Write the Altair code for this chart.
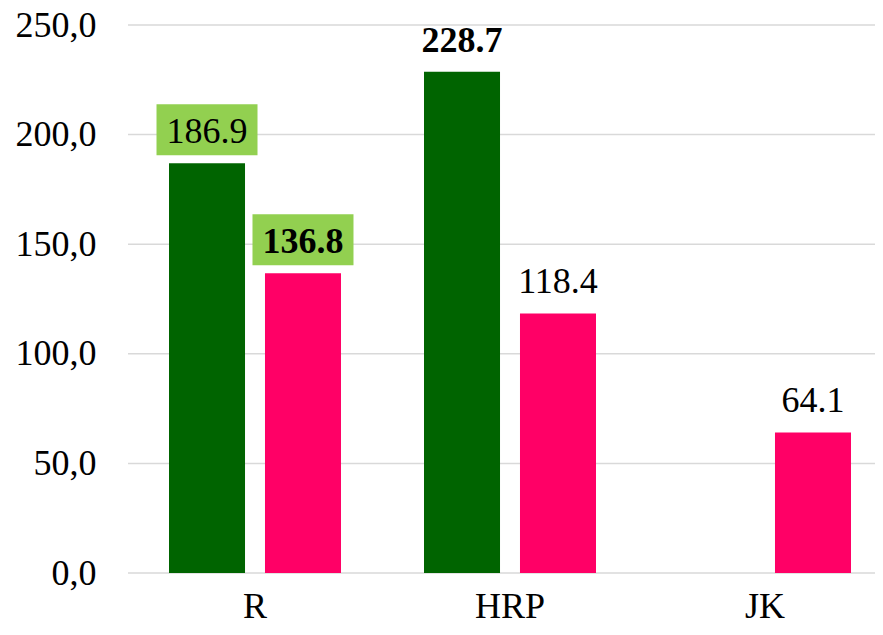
import altair as alt
import pandas as pd

categories = ["R", "HRP", "JK"]
series_names = ["Series A", "Series B"]
series_a = [186.9, 228.7, None]
series_b = [136.8, 118.4, 64.1]
series_colors = ["#006400", "#FF0066"]
bold_labels = [("R", "Series B"), ("HRP", "Series A")]
boxed_labels = [("R", "Series A"), ("R", "Series B")]
y_ticks = [0, 50, 100, 150, 200, 250]

rows = []
for i, c in enumerate(categories):
    for s, vals in zip(series_names, [series_a, series_b]):
        v = vals[i]
        if v is None:
            continue
        rows.append({"cat": c, "series": s, "value": v,
                     "bold": (c, s) in bold_labels,
                     "boxed": (c, s) in boxed_labels})
df = pd.DataFrame(rows)
grid_df = pd.DataFrame({"value": y_ticks})

FONT = "Liberation Serif"
W, H = 747, 548

x = alt.X("cat:N", sort=categories,
          scale=alt.Scale(paddingInner=0.3255, paddingOuter=0, range=[41, 723]),
          axis=alt.Axis(title=None, labelAngle=0, labelFont=FONT, labelFontSize=36,
                        labelColor="black", domain=False,
                        ticks=False, labelPadding=16))
xo = alt.XOffset("series:N", sort=series_names,
                 scale=alt.Scale(domain=series_names, paddingInner=0.208, paddingOuter=0))
yscale = alt.Scale(domain=[0, 250], nice=False)
y_axis = alt.Axis(title=None, values=y_ticks, grid=False,
                  domain=False, ticks=False, labelFont=FONT,
                  labelFontSize=36, labelColor="black", labelPadding=32,
                  labelExpr="replace(format(datum.value, '.1f'), '.', ',')")
y = alt.Y("value:Q", scale=yscale, axis=y_axis)

grid = alt.Chart(grid_df).mark_rule(color="#D9D9D9", strokeWidth=1.5).encode(
    y=alt.Y("value:Q", scale=yscale, axis=y_axis),
    x=alt.value(0), x2=alt.value(W + 10),
)

base = alt.Chart(df).encode(x=x, xOffset=xo, y=y)

bars = base.mark_bar().encode(
    color=alt.Color("series:N", scale=alt.Scale(domain=series_names, range=series_colors), legend=None)
)

boxes = base.transform_filter("datum.boxed").mark_point(
    shape="M-1,-0.505H1V0.505H-1Z", size=101 * 101, filled=True, fill="#92D050",
    opacity=1, strokeWidth=0, yOffset=-33.5)

text_normal = base.transform_filter("!datum.bold").mark_text(
    font=FONT, fontSize=36, baseline="alphabetic", dy=-20, color="black"
).encode(text=alt.Text("value:Q", format=".1f"))

text_bold = base.transform_filter("datum.bold").mark_text(
    font=FONT, fontSize=36, fontWeight="bold", baseline="alphabetic", dy=-20, color="black"
).encode(text=alt.Text("value:Q", format=".1f"))

chart = alt.layer(grid, bars, boxes, text_normal, text_bold).properties(
    width=W, height=H,
    autosize=alt.AutoSizeParams(type="none"),
    padding={"left": 120, "top": 17, "right": 0, "bottom": 54},
).configure_view(stroke=None, clip=False)

chart.save("out.html", embed_options={"renderer": "svg", "actions": False})
